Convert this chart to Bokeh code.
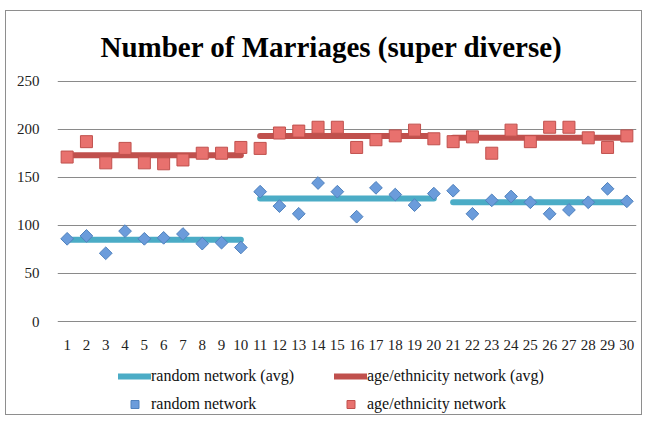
import math
from bokeh.plotting import figure
from bokeh.models import Legend, LegendItem, Range1d, FixedTicker
from bokeh.embed import file_html
from bokeh.resources import INLINE

runs = list(range(1, 31))
random_network = [86, 89, 71, 94, 86, 87, 91, 81, 82, 77,
                  135, 120, 112, 144, 135, 109, 139, 132, 121, 133,
                  136, 112, 126, 130, 124, 112, 116, 124, 138, 125]
age_network = [171, 187, 165, 180, 165, 164, 168, 175, 175, 181,
               180, 196, 198, 202, 202, 181, 189, 193, 199, 190,
               187, 192, 175, 199, 187, 202, 202, 191, 181, 193]
group_start = [1, 11, 21]
group_end = [10, 20, 30]
random_avg = [85, 128, 124]
age_avg = [173, 193, 191]
y_ticks = [0, 50, 100, 150, 200, 250]

SERIF = "Liberation Serif"

p = figure(width=637, height=405, output_backend="svg", toolbar_location=None,
           x_range=Range1d(0.5, 30.5), y_range=Range1d(-97.7, 250.6),
           min_border_left=51, min_border_right=7, min_border_top=69,
           min_border_bottom=1)
p.styles = {"border": "1px solid #8e8e8e", "margin-left": "5px", "margin-top": "10px"}
p.outline_line_color = None
p.background_fill_color = "white"

p.title.text = "Number of Marriages (super diverse)"
p.title.text_font = SERIF
p.title.text_font_size = "29px"
p.title.text_font_style = "bold"
p.title.align = "left"
p.title.offset = 43
p.title.text_color = "black"
p.title.standoff = 35

p.xgrid.grid_line_color = None
p.ygrid.grid_line_color = "#8a8a8a"
p.ygrid.grid_line_width = 1

p.yaxis.ticker = FixedTicker(ticks=y_ticks)
p.xaxis.ticker = FixedTicker(ticks=runs)
p.xaxis.fixed_location = 0
for ax in (p.xaxis[0], p.yaxis[0]):
    ax.axis_line_color = None
    ax.major_tick_line_color = None
    ax.minor_tick_line_color = None
    ax.major_label_text_font = SERIF
    ax.major_label_text_font_size = "15px"
    ax.major_label_text_color = "#222222"
p.yaxis.major_label_standoff = 12
p.xaxis.major_label_standoff = 12

r_ravg = p.segment(x0=group_start, x1=group_end, y0=random_avg, y1=random_avg,
                   line_color="#4BACC6", line_width=6, line_cap="round")
r_aavg = p.segment(x0=group_start, x1=group_end, y0=age_avg, y1=age_avg,
                   line_color="#C0504D", line_width=6, line_cap="round")
r_rand = p.scatter(runs, random_network, marker="square", angle=math.pi / 4,
                   size=9, fill_color="#6B9CDB", line_color="#4F81BD", line_width=1)
r_age = p.scatter(runs, age_network, marker="square", size=12,
                  fill_color="#E8716E", line_color="#C0504D", line_width=1)

legend = Legend(items=[LegendItem(label="random network (avg)", renderers=[r_ravg]),
                       LegendItem(label="age/ethnicity network (avg)", renderers=[r_aavg]),
                       LegendItem(label="random network", renderers=[r_rand]),
                       LegendItem(label="age/ethnicity network", renderers=[r_age])],
                location=(61, 1), orientation="horizontal", ncols=2,
                spacing=8, glyph_width=33, glyph_height=20, label_standoff=0,
                label_width=175, label_height=20,
                label_text_font=SERIF, label_text_font_size="16px",
                label_text_color="#111111", border_line_color=None,
                background_fill_alpha=0, padding=0, margin=0)
p.add_layout(legend, "center")

open("out.html", "w").write(file_html(p, INLINE))
